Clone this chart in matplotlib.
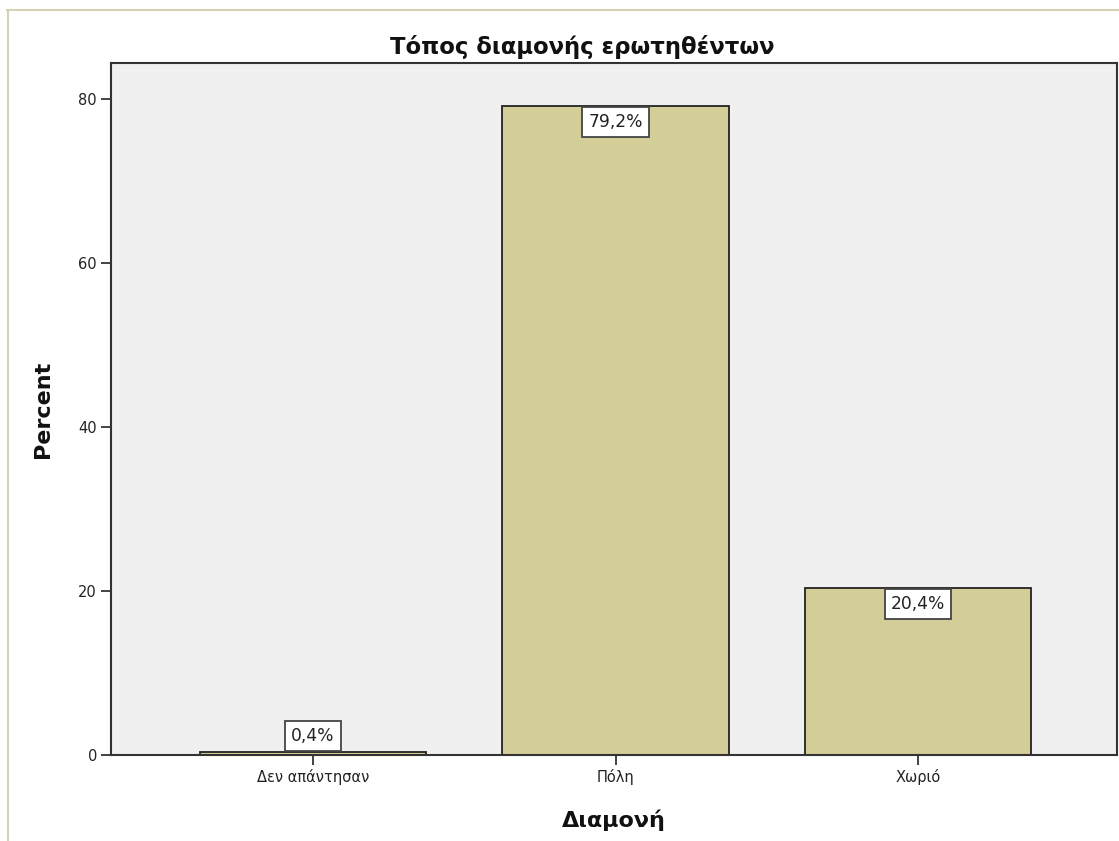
import numpy as np
import matplotlib.pyplot as plt

# data
categories = ['Δεν απάντησαν', 'Πόλη', 'Χωριό']
percent = [0.4, 79.2, 20.4]
labels = ['0,4%', '79,2%', '20,4%']

plt.rcParams['font.family'] = ['DejaVu Sans']

fig = plt.figure(figsize=(11.19, 8.41), dpi=100)
W, H = 1119, 841
ax = fig.add_axes([111 / W, 1 - 755 / H, (1117 - 111) / W, (755 - 63) / H])
ax.set_facecolor('#f0f0f0')

x = np.arange(len(categories))
ax.bar(x, percent, width=0.75, color='#d3ce97', edgecolor='#222222', linewidth=1.3, zorder=2)

box = dict(boxstyle='square,pad=0.35', fc='white', ec='#444444', lw=1.3)
for xi, v, lab in zip(x, percent, labels):
    if v > 5:
        ax.annotate(lab, (xi, v), xytext=(0, -5.5), textcoords='offset points',
                    ha='center', va='top', fontsize=12.3, color='#222222', zorder=3, bbox=box)
    else:
        ax.annotate(lab, (xi, v), xytext=(0, 5), textcoords='offset points',
                    ha='center', va='bottom', fontsize=12.3, color='#222222', zorder=3, bbox=box)

ax.set_xlim(-0.668, 2.658)
ax.set_ylim(0, 84.4)
ax.set_yticks([0, 20, 40, 60, 80])
ax.set_xticks(x)
ax.set_xticklabels(categories)
ax.tick_params(axis='both', direction='out', length=7, width=1.2, color='#222222',
               labelsize=10.5, labelcolor='#222222', pad=3)

for s in ax.spines.values():
    s.set_color('#333333')
    s.set_linewidth(1.5)

lab_font = dict(fontsize=16, fontweight='bold', color='#111111')
ax.set_xlabel('Διαμονή', labelpad=18, **lab_font)
ax.set_ylabel('Percent', labelpad=18, **lab_font)
fig.text(582 / W, 1 - 47 / H, 'Τόπος διαμονής ερωτηθέντων', ha='center', va='center',
         fontsize=16.4, fontweight='bold', color='#111111')

# outer frame lines (top and left)
fig.add_artist(plt.Line2D([7 / W, 1], [1 - 9.5 / H, 1 - 9.5 / H], color='#d8d2b4', lw=1.5))
fig.add_artist(plt.Line2D([7.5 / W, 7.5 / W], [0, 1 - 9.5 / H], color='#d8d2b4', lw=1.5))

fig.savefig('out.png', dpi=100)
